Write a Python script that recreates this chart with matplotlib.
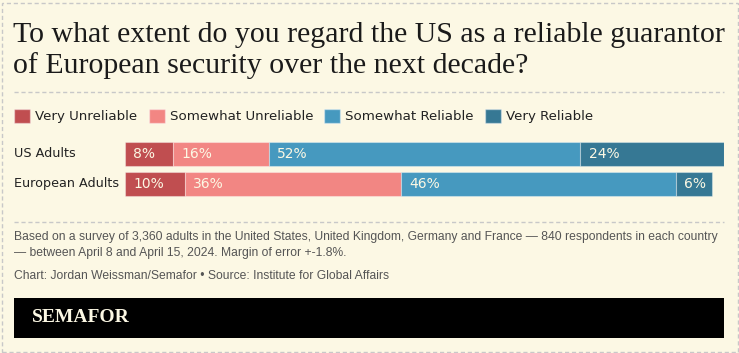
import matplotlib.pyplot as plt
import matplotlib.transforms as mtransforms
from matplotlib.patches import Rectangle, Patch
from matplotlib.lines import Line2D

# data
groups = ["US Adults", "European Adults"]
categories = ["Very Unreliable", "Somewhat Unreliable", "Somewhat Reliable", "Very Reliable"]
very_unreliable = [8, 10]
somewhat_unreliable = [16, 36]
somewhat_reliable = [52, 46]
very_reliable = [24, 6]

title_lines = ["To what extent do you regard the US as a reliable guarantor",
               "of European security over the next decade?"]
note = ("Based on a survey of 3,360 adults in the United States, United Kingdom, Germany and France \u2014 840 respondents in each country\n"
        "\u2014 between April 8 and April 15, 2024. Margin of error +-1.8%.")
credit = "Chart: Jordan Weissman/Semafor \u2022 Source: Institute for Global Affairs"

colors = ["#c04e50", "#f28683", "#4699bf", "#367894"]
BG = "#fcf8e4"
W, H = 739, 353
SANS = "DejaVu Sans"


def fx(x):
    return x / W


def fy(y):
    return 1 - y / H


fig = plt.figure(figsize=(W / 100, H / 100), dpi=100)
fig.patch.set_facecolor(BG)

# dashed outer border + separators
fig.add_artist(Rectangle((fx(1.5), fy(351.5)), fx(736), 349 / H, transform=fig.transFigure,
                         fill=False, edgecolor="#c8c8c8", lw=1, ls=(0, (3, 2))))
for yy in [92, 222]:
    fig.add_artist(Line2D([fx(14), fx(724)], [fy(yy), fy(yy)], transform=fig.transFigure,
                          color="#c8c8c8", lw=1, ls=(0, (3, 2))))

# title
for line, base in zip(title_lines, [42, 73]):
    fig.text(fx(13), fy(base), line, ha="left", va="baseline", fontsize=21.5, family="Liberation Serif",
             color="#1a1a1a")

# legend
handles = [Patch(facecolor=c, edgecolor=(1, 1, 1, 0.4), label=l) for c, l in zip(colors, categories)]
fig.legend(handles=handles, loc="center left", bbox_to_anchor=(fx(14), fy(116)), ncol=4,
           frameon=False, borderpad=0, borderaxespad=0, handlelength=1.2, handleheight=1.2,
           handletextpad=0.38, columnspacing=0.85, prop={"family": SANS, "size": 9.6})
for t in fig.legends[0].get_texts():
    t.set_color("#222222")

# bars
ax = fig.add_axes([fx(125), fy(199), (724 - 125) / W, 60 / H])
ax.set_facecolor("none")
ax.set_xlim(0, 100)
ax.set_ylim(1.5, -0.5)
ax.axis("off")

series = [very_unreliable, somewhat_unreliable, somewhat_reliable, very_reliable]
lefts = [0] * len(groups)
for vals, c in zip(series, colors):
    ax.barh(range(len(groups)), vals, left=lefts, height=0.8, color=c,
            edgecolor=(1, 1, 1, 0.35), linewidth=0.8)
    for i, v in enumerate(vals):
        ax.annotate(f"{v}%", xy=(lefts[i], i), xytext=(6, 0), textcoords="offset points",
                    ha="left", va="center", fontsize=10, color="#fcf8e4", family=SANS)
    lefts = [l + v for l, v in zip(lefts, vals)]

# group labels
tr = mtransforms.blended_transform_factory(fig.transFigure, ax.transData)
for i, g in enumerate(groups):
    fig.text(fx(14), i, g, transform=tr, ha="left", va="center", fontsize=9.2,
             color="#222222", family=SANS)

# notes
fig.text(fx(14), fy(231), note, ha="left", va="top", fontsize=8.7, color="#555555",
         family="Liberation Sans", linespacing=1.4)
fig.text(fx(14), fy(270), credit, ha="left", va="top", fontsize=8.7, color="#555555",
         family="Liberation Sans")

# logo bar
fig.add_artist(Rectangle((fx(14), fy(338)), (724 - 14) / W, 40 / H, transform=fig.transFigure,
                         facecolor="black", edgecolor="none"))
fig.text(fx(32), fy(318), "SEMAFOR", ha="left", va="center", fontsize=14, fontweight="bold",
         family="Liberation Serif", color=BG)

fig.savefig("out.png", dpi=100, facecolor=BG)
